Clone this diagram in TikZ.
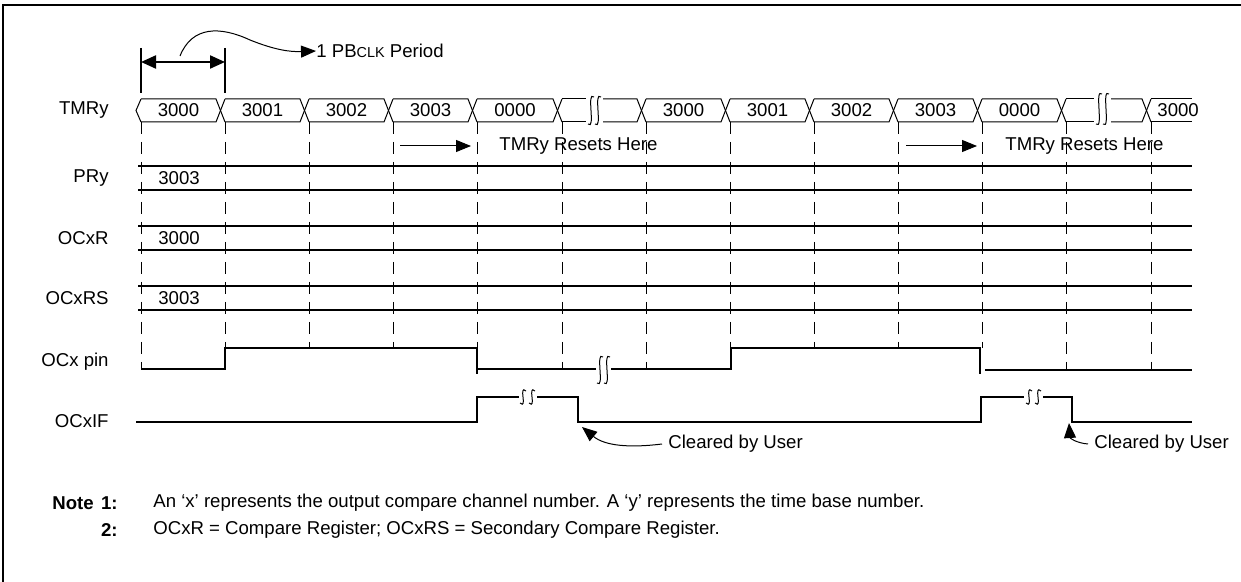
\documentclass[tikz,border=0pt]{standalone}
\usepackage{fontspec}
\setmainfont{Liberation Sans}
\usetikzlibrary{arrows.meta}
\newcommand\Integ[3]{\draw[line width=0.5pt] (#1+3,#2+2) .. controls (#1-5,#2-5) and (#1+5,#3+5) .. (#1-3,#3-2);}
\newcommand\fs{\fontsize{9.3}{10}\selectfont}
\begin{document}
\begin{tikzpicture}[x=0.5pt,y=-0.5pt,
  lbl/.style={anchor=east,font=\fs,inner sep=0},
  txt/.style={font=\fs,inner sep=0},
  sig/.style={line width=1.1pt},
  bus/.style={line width=0.5pt},
  gridl/.style={line width=0.5pt,dash pattern=on 6pt off 4pt},
  tri/.style={-{Triangle[length=7.5pt,width=6pt]}},
]
\useasboundingbox (0,0) rectangle (1241,582);
% frame
\draw[line width=1.3pt] (3,582) -- (3,5) -- (1241,5);
% period marker
\draw[line width=0.8pt] (141,48) -- (141,93);
\draw[line width=0.8pt] (225,48) -- (225,93);
\draw[line width=1.1pt,{Triangle[length=7.5pt,width=6.5pt]}-{Triangle[length=7.5pt,width=6.5pt]}] (141,62) -- (225,62);
\coordinate (cs) at (180,56);
\node[txt,anchor=west] (per) at (316,51) {1 PB{\fontsize{7.2}{8}\selectfont CLK} Period};
\draw[line width=0.5pt,tri] (cs) .. controls (192,26) and (220,26) .. (250,40) .. controls (275,50) and (290,52) .. (per.west);
% labels
\node[lbl] (lt) at (109,110.5) {TMRy};
\node[lbl] (lp) at (109,178) {PRy};
\node[lbl] (lr) at (109,238) {OCxR};
\node[lbl] (lrs) at (109,298) {OCxRS};
\node[lbl] (lpin) at (109,362) {OCx pin};
\node[lbl] (lif) at (109,421) {OCxIF};
% grid
\foreach \x/\e in {141/369,225/348,309/348,393/348,477/348,562/369,646/369,730/348,814/348,898/348,982/348,1066/369,1151/369}
  \draw[gridl] (\x,122) -- (\x,\e);
% TMRy bus
\draw[bus] (141,99) -- (136,110.5) -- (141,122);
\foreach \a/\b/\t [count=\i] in {141/225/3000,225/309/3001,309/393/3002,393/477/3003,477/562/0000,646/730/3000,730/814/3001,814/898/3002,898/982/3003,982/1066/0000}{
  \draw[bus] (\a,99) -- (\b-9,99) -- (\b,122);
  \draw[bus] (\a,122) -- (\b-9,122) -- (\b,99);
  \node[txt] (tv\i) at ({(\a+\b-9)/2},110.5) {\t};
}
\draw[bus] (562,99) -- (586,99); \draw[bus] (562,122) -- (586,122);
\Integ{591}{95}{126}\Integ{598}{95}{126}
\draw[bus] (603,99) -- (637,99) -- (646,122); \draw[bus] (603,122) -- (637,122) -- (646,99);
\draw[bus] (1066,99) -- (1094,99); \draw[bus] (1066,122) -- (1094,122);
\Integ{1099}{92}{126}\Integ{1106}{92}{126}
\draw[bus] (1111,99) -- (1142,99) -- (1151,122); \draw[bus] (1111,122) -- (1142,122) -- (1151,99);
\draw[bus] (1151,99) -- (1192,99); \draw[bus] (1151,122) -- (1192,122);
\node[txt,anchor=west] (tvl) at (1157,110.5) {3000};
% resets arrows
\node[txt,anchor=west] (rs1) at (499,146) {TMRy Resets Here};
\node[txt,anchor=west] (rs2) at (1005,146) {TMRy Resets Here};
\coordinate (ra1) at (400,146); \coordinate (rb1) at (471,146);
\coordinate (ra2) at (906,146); \coordinate (rb2) at (977,146);
\draw[line width=0.5pt,tri] (ra1) -- (rb1);
\draw[line width=0.5pt,tri] (ra2) -- (rb2);
% register rows
\foreach \y in {166,190,226,250,286,310}
  \draw[sig] (138,\y) -- (1192,\y);
\node[txt,anchor=west] (vp) at (158,178) {3003};
\node[txt,anchor=west] (vr) at (158,238) {3000};
\node[txt,anchor=west] (vrs) at (158,298) {3003};
% OCx pin
\draw[sig] (141,369) -- (225,369) -- (225,348) -- (477,348) -- (477,374);
\draw[sig] (477,369) -- (596,369);
\Integ{600}{355}{385}\Integ{607}{355}{385}
\draw[sig] (611,369) -- (731,369) -- (731,348) -- (980,348) -- (980,374);
\draw[sig] (985,370) -- (1192,370);
% OCxIF
\draw[sig] (136,422) -- (477,422) -- (477,397) -- (519,397);
\Integ{523}{389}{405}\Integ{532}{389}{405}
\draw[sig] (537,397) -- (578,397) -- (578,422) -- (981,422) -- (981,397) -- (1024,397);
\Integ{1029}{389}{405}\Integ{1038}{389}{405}
\draw[sig] (1043,397) -- (1072,397) -- (1072,422) -- (1192,422);
% cleared by user
\node[txt,anchor=west] (cu1) at (668,444) {Cleared by User};
\node[txt,anchor=west] (cu2) at (1094,444) {Cleared by User};
\coordinate (ct1) at (582,427); \coordinate (ct2) at (1069,423);
\draw[line width=0.5pt,tri] ([xshift=-3pt]cu1.west) .. controls (630,448) and (605,446) .. (ct1);
\draw[line width=0.5pt,tri] ([xshift=-3pt]cu2.west) .. controls (1076,443) and (1070,438) .. (ct2);
% notes
\node[txt,anchor=west,font=\fs\bfseries] (nn) at (52,503) {Note};
\node[txt,anchor=east,font=\fs\bfseries] (n1) at (118,503) {1:};
\node[txt,anchor=east,font=\fs\bfseries] (n2) at (118,530) {2:};
\node[txt,anchor=west] (t1) at (153,503) {An ‘x’ represents the output compare channel number. A ‘y’ represents the time base number.};
\node[txt,anchor=west] (t2) at (153,530) {OCxR = Compare Register; OCxRS = Secondary Compare Register.};
\end{tikzpicture}
\end{document}
